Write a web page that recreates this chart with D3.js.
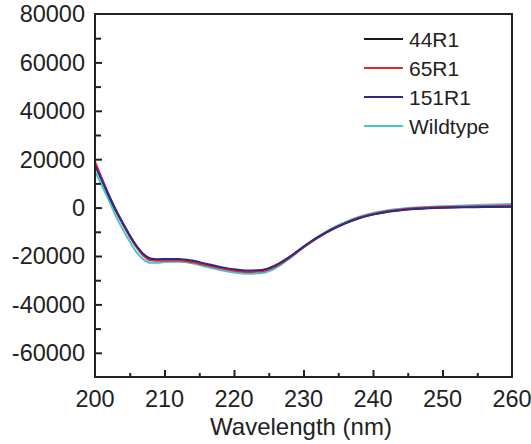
<!DOCTYPE html>
<html>
<head>
<meta charset="utf-8">
<script src="https://cdn.jsdelivr.net/npm/d3@7"></script>
<style>
  body { margin: 0; background: #fff; }
  svg { display: block; font-family: "Liberation Sans", Arial, sans-serif; }
</style>
</head>
<body>
<svg id="chart" width="531" height="444"></svg>
<script>
const wavelengths = [200, 201, 202, 203, 204, 205, 206, 207, 208, 209, 210, 212, 214, 216, 218, 220, 222, 224, 226, 228, 230, 232, 234, 236, 238, 240, 242, 244, 246, 248, 250, 253, 256, 260];

const r44 = [18000, 11500, 5000, -1000, -6500, -11500, -16000, -19500, -21400, -21700, -21600, -21600, -22300, -23500, -24800, -25800, -26300, -26000, -24000, -20500, -16300, -12500, -9200, -6500, -4300, -2800, -1700, -1000, -500, -200, 0, 200, 300, 500];
const r65 = [19000, 12000, 5200, -1200, -6800, -12000, -16500, -20000, -21800, -22000, -21900, -21900, -22600, -23800, -25100, -26100, -26600, -26300, -24300, -20700, -16400, -12500, -9100, -6400, -4200, -2600, -1500, -800, -300, 0, 200, 400, 600, 800];
const r151 = [17500, 11200, 4800, -1200, -6500, -11500, -16000, -19300, -21000, -21300, -21200, -21200, -21900, -23200, -24500, -25500, -26000, -25800, -23800, -20300, -16100, -12300, -9100, -6500, -4400, -2900, -1800, -1100, -600, -300, -100, 100, 200, 400];
const wildtype = [15000, 9000, 3000, -3500, -9000, -14000, -18500, -21500, -22800, -22800, -22500, -22400, -23000, -24500, -25800, -26800, -27300, -27000, -25000, -21000, -16500, -12300, -8700, -6000, -3800, -2200, -1200, -500, 0, 300, 600, 900, 1200, 1500];

const seriesNames = ["44R1", "65R1", "151R1", "Wildtype"];
const seriesColors = ["#1a1a1a", "#e8262b", "#2e2a8a", "#45c6cc"];
const seriesValues = [r44, r65, r151, wildtype];

const xTicks = [200, 210, 220, 230, 240, 250, 260];
const yTicks = [-60000, -40000, -20000, 0, 20000, 40000, 60000, 80000];

const svg = d3.select("#chart");
const plotLeft = 95, plotRight = 512, plotTop = 14, plotBottom = 377;

const x = d3.scaleLinear([200, 260], [plotLeft, plotRight]);
const y = d3.scaleLinear([-70000, 80000], [plotBottom, plotTop]);

// curves (wildtype underneath, mutants on top)
const line = d3.line()
  .x((d, i) => x(wavelengths[i]))
  .y(d => y(d))
  .curve(d3.curveMonotoneX);

const order = [3, 0, 1, 2];
svg.append("g")
  .attr("fill", "none")
  .attr("stroke-width", 2)
  .selectAll("path")
  .data(order)
  .join("path")
  .attr("stroke", i => seriesColors[i])
  .attr("d", i => line(seriesValues[i]));

// frame
svg.append("rect")
  .attr("x", plotLeft).attr("y", plotTop)
  .attr("width", plotRight - plotLeft).attr("height", plotBottom - plotTop)
  .attr("fill", "none").attr("stroke", "#222").attr("stroke-width", 2);

// x axis, ticks pointing inward
svg.append("g")
  .attr("transform", `translate(0,${plotBottom})`)
  .call(d3.axisTop(x).tickValues(d3.range(205, 260, 5)).tickSize(6).tickFormat(""))
  .call(g => g.select(".domain").remove())
  .call(g => g.selectAll(".tick line").attr("stroke", "#222").attr("stroke-width", 2)
    .attr("y2", d => d % 10 === 0 ? -7 : -4));

svg.append("g")
  .selectAll("text")
  .data(xTicks)
  .join("text")
  .attr("x", d => x(d))
  .attr("y", 407)
  .attr("text-anchor", "middle")
  .attr("font-size", 23.5)
  .attr("fill", "#222")
  .text(d => d);

// y axis, ticks pointing inward
svg.append("g")
  .attr("transform", `translate(${plotLeft},0)`)
  .call(d3.axisRight(y).tickValues(d3.range(-60000, 80000, 10000)).tickSize(7).tickFormat(""))
  .call(g => g.select(".domain").remove())
  .call(g => g.selectAll(".tick line").attr("stroke", "#222").attr("stroke-width", 2)
    .attr("x2", d => d % 20000 === 0 ? 7 : 6));

svg.append("g")
  .selectAll("text")
  .data(yTicks)
  .join("text")
  .attr("x", 85)
  .attr("y", d => y(d))
  .attr("dy", "0.36em")
  .attr("text-anchor", "end")
  .attr("font-size", 23.5)
  .attr("fill", "#222")
  .text(d => d);

svg.append("text")
  .attr("x", 301)
  .attr("y", 435)
  .attr("text-anchor", "middle")
  .attr("font-size", 24)
  .attr("fill", "#222")
  .text("Wavelength (nm)");

// legend
const legend = svg.append("g")
  .selectAll("g")
  .data(seriesNames)
  .join("g")
  .attr("transform", (d, i) => `translate(364,${39 + i * 29})`);

legend.append("line")
  .attr("x1", 0).attr("x2", 39)
  .attr("stroke", (d, i) => seriesColors[i])
  .attr("stroke-width", 2);

legend.append("text")
  .attr("x", 45)
  .attr("dy", "0.36em")
  .attr("font-size", 21)
  .attr("fill", "#222")
  .text(d => d);
</script>
</body>
</html>
